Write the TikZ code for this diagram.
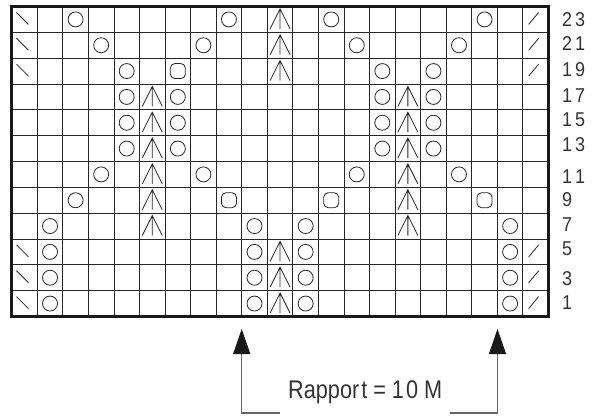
\documentclass[tikz,border=0pt]{standalone}
\usepackage{fontspec}
\setmainfont{Liberation Sans}
\newfontfamily\condfont{Liberation Sans}[FakeStretch=0.85]
\newfontfamily\lblfont{Liberation Sans}[FakeStretch=0.9]
\usetikzlibrary{arrows.meta}
\tikzset{
  gridline/.style={line width=0.85pt, draw=black!85},
  frameline/.style={line width=3.2pt, draw=black!90},
  sym/.style={line width=0.8pt, draw=black!85},
  rowlabel/.style={anchor=west, inner sep=0pt, text=black!80, font=\lblfont\fontsize{20}{22}\selectfont},
  rapptext/.style={anchor=base west, inner sep=0pt, text=black!80, font=\condfont\fontsize{25.5}{28}\selectfont},
  arrowline/.style={line width=1.2pt, draw=black!60, -{Triangle[length=25pt,width=17pt,color=black!90]}},
  kO/.pic={\draw[sym] (0,0) circle[radius=7.5pt];},
  kSq/.pic={\draw[sym, rounded corners=4.5pt] (-7.5pt,-7.5pt) rectangle (7.5pt,7.5pt);},
  kDec/.pic={\draw[sym] (-10pt,-9.5pt) -- (0pt,10.5pt) -- (10pt,-9.5pt) (0pt,10.5pt) -- (0pt,-9.5pt);},
  kBs/.pic={\draw[sym] (-8pt,7pt) -- (4pt,-5pt);},
  kFs/.pic={\draw[sym] (-7pt,-5pt) -- (3pt,7pt);}
}
\begin{document}
\begin{tikzpicture}[x=1pt,y=-1pt]
\useasboundingbox (0,0) rectangle (594,416);
\def\xo{11.7}\def\yo{6.5}\def\cw{25.56}\def\rh{25.83}
% grid
\foreach \c in {1,...,20}
  \draw[gridline] ({\xo+\c*\cw},\yo) -- ({\xo+\c*\cw},{\yo+12*\rh});
\foreach \r in {1,...,11}
  \draw[gridline] (\xo,{\yo+\r*\rh}) -- ({\xo+21*\cw},{\yo+\r*\rh});
% symbols
\foreach \c/\i in {3/0,9/0,13/0,19/0, 4/1,8/1,14/1,18/1, 5/2,15/2,17/2,
  5/3,7/3,15/3,17/3, 5/4,7/4,15/4,17/4, 5/5,7/5,15/5,17/5,
  4/6,8/6,14/6,18/6, 3/7, 2/8,10/8,12/8,20/8,
  2/9,10/9,12/9,20/9, 2/10,10/10,12/10,20/10, 2/11,10/11,12/11,20/11}
  \pic at ({\xo+(\c-0.5)*\cw},{\yo+(\i+0.5)*\rh}) {kO};
\foreach \c/\i in {7/2, 9/7,13/7,19/7}
  \pic at ({\xo+(\c-0.5)*\cw},{\yo+(\i+0.5)*\rh}) {kSq};
\foreach \c/\i in {11/0,11/1,11/2, 6/3,16/3,6/4,16/4,6/5,16/5,6/6,16/6,6/7,16/7,6/8,16/8, 11/9,11/10,11/11}
  \pic at ({\xo+(\c-0.5)*\cw},{\yo+(\i+0.5)*\rh}) {kDec};
\foreach \i in {0,1,2,9,10,11}{
  \pic at ({\xo+0.5*\cw},{\yo+(\i+0.5)*\rh}) {kBs};
  \pic at ({\xo+20.5*\cw},{\yo+(\i+0.5)*\rh}) {kFs};
}
% frame
\draw[frameline] (\xo,\yo) rectangle ({\xo+21*\cw},{\yo+12*\rh});
% row labels
\foreach \t/\y in {2\kern3pt3/20, 2\kern3pt1/44, 1\kern3pt9/70, 1\kern3pt7/96,
  1\kern3pt5/120, 1\kern3pt3/145, 1\kern3pt1/177, 9/200, 7/225, 5/249, 3/279, 1/303}
  \node[rowlabel] (lab\y) at (562,\y) {\t};
% rapport
\node[rapptext] (rapp) at (288,398) {Rappor\kern2pt t = 1\kern2pt 0 M};
\coordinate (la) at (280,413);
\coordinate (lc) at (241.7,413);
\coordinate (lt) at (241.7,329);
\coordinate (ra) at (450,413);
\coordinate (rc) at (497.5,413);
\coordinate (rt) at (497.5,329);
\draw[arrowline] (la) -- (lc) -- (lt);
\draw[arrowline] (ra) -- (rc) -- (rt);
\end{tikzpicture}
\end{document}
